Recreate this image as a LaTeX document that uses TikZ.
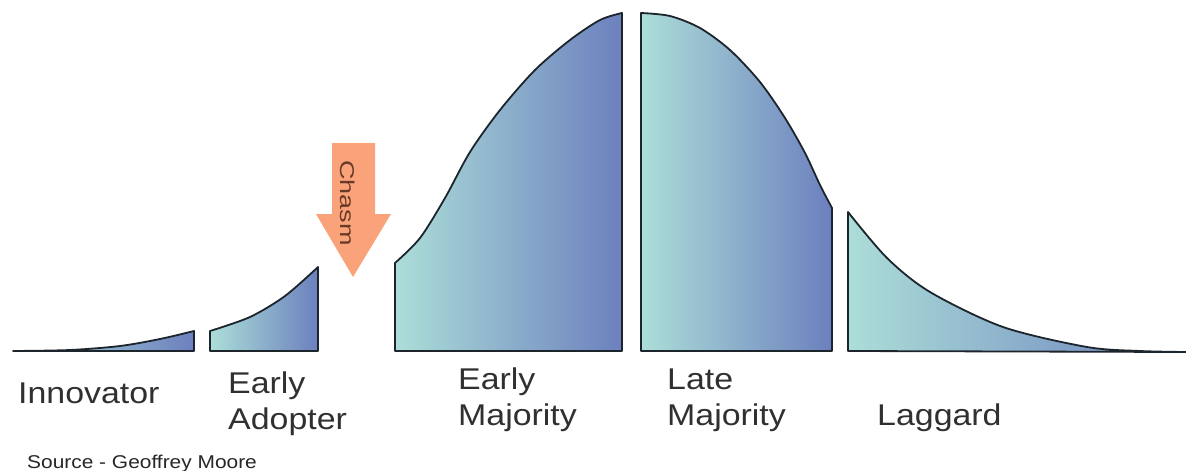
\documentclass[tikz,border=0pt]{standalone}
\usepackage{fontspec}
\usepackage{xcolor}
\setmainfont{Liberation Sans}
\newfontfamily\lblfont[FakeStretch=1.13]{Liberation Sans}
\newfontfamily\chasmfont[FakeStretch=1.35]{Liberation Sans}
\definecolor{segteal}{RGB}{172,222,216}
\definecolor{segblue}{RGB}{108,128,190}
\definecolor{segline}{RGB}{28,36,44}
\definecolor{chasmorange}{RGB}{250,162,122}
\definecolor{chasmtext}{RGB}{105,58,38}
\definecolor{labelgray}{RGB}{48,48,48}

\begin{document}
\begin{tikzpicture}[x=1pt,y=-1pt,
        seg/.style={draw=segline,line width=1.8pt,line join=round,
          left color=segteal,right color=segblue},
        lbl/.style={anchor=base west,inner sep=0pt,align=left,text=labelgray,
          font=\lblfont\fontsize{30}{36}\selectfont},
        arrowbox/.style={fill=chasmorange,draw=none}]
        \useasboundingbox (0,0) rectangle (1186,471);
        \draw[seg] (13,351) -- plot[smooth] coordinates {(13,351) (70,350) (120,346) (160,339) (194,331)}
          -- (194,351) -- cycle;
        \draw[seg] (210,351) -- (210,331) -- plot[smooth] coordinates {(210,331) (250,317) (285,296) (318,267)}
          -- (318,351) -- cycle;
        \draw[seg] (395,351) -- (395,263) -- plot[smooth] coordinates {(395,263) (420,238) (445,198) (470,152)
          (500,110) (535,70) (570,40) (600,20) (622,13)} -- (622,351) -- cycle;
        \draw[seg] (641,351) -- (641,13) -- plot[smooth] coordinates {(641,13) (670,16) (700,28) (730,50)
          (760,82) (785,118) (805,153) (820,185) (832,208)} -- (832,351) -- cycle;
        \draw[seg] (848,351) -- (848,212) -- plot[smooth] coordinates {(848,212) (887,258) (930,292)
          (1003,327) (1087,347) (1140,351) (1186,352)} -- cycle;
        \fill[arrowbox] (332,143) -- (375,143) -- (375,214) -- (391,214) -- (353,277) -- (316,214)
          -- (332,214) -- cycle;
        \node[rotate=-90,inner sep=0pt,text=chasmtext,font=\chasmfont\fontsize{20}{24}\selectfont]
          (chasm) at (348,203) {Chasm};
        \node[lbl] (innov) at (18,403) {Innovator};
        \node[lbl] (earlyad) at (228,429) {Early\\Adopter};
        \node[lbl] (earlymaj) at (458,425) {Early\\Majority};
        \node[lbl] (latemaj) at (667,425) {Late\\Majority};
        \node[lbl] (lagg) at (877,425) {Laggard};
        \node[anchor=base west,inner sep=0pt,text=black!85,font=\lblfont\fontsize{18.5}{22}\selectfont]
          (src) at (27,468) {Source - Geoffrey Moore};
      \end{tikzpicture}
\end{document}
